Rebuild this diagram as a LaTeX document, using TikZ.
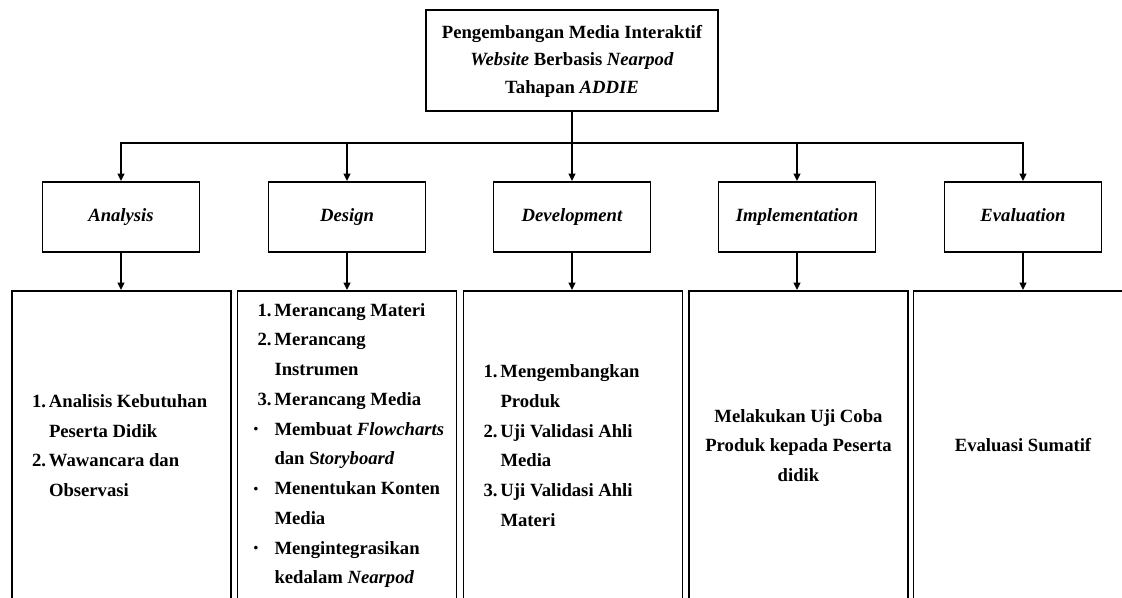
\documentclass[tikz,border=0pt]{standalone}
\usepackage{fontspec}
\setmainfont{Liberation Serif}
\usepackage{tikz}
\usetikzlibrary{arrows.meta, positioning}
\newcommand{\addienum}[2]{\makebox[12.75pt][l]{#1}\mbox{#2}}
\newcommand{\addipad}[1]{\hspace*{12.75pt}\mbox{#1}}
\newcommand{\addidot}[1]{\hspace*{-3pt}\makebox[15.75pt][l]{\raisebox{1pt}{\fontsize{10}{10}\selectfont\textbullet}}\mbox{#1}}
\tikzset{
  titlebox/.style={rectangle, draw, line width=1.4pt,
    minimum width=219pt, minimum height=75.75pt, align=center,
    text depth=2pt,
    font=\fontsize{14}{20.6}\selectfont\bfseries},
  phasebox/.style={rectangle, draw, line width=1.4pt,
    minimum width=117.75pt, minimum height=52.5pt,
    text height=10pt, text depth=3pt,
    font=\fontsize{14}{17}\selectfont\bfseries\itshape},
  detailbox/.style={rectangle, draw, line width=1.4pt,
    minimum width=164.25pt, minimum height=231.75pt, align=center,
    font=\fontsize{14}{22.3}\selectfont\bfseries},
  listbox/.style={detailbox, text width=134.25pt, inner xsep=15pt, align=flush left},
  arrow/.style={-{Triangle[length=5.5pt,width=5pt]}, line width=1.3pt},
  line/.style={line width=1.3pt}
}
\begin{document}
\begin{tikzpicture}[x=0.75pt, y=-0.75pt]
  \useasboundingbox (0,0) rectangle (1122,597);
  \clip (0,0) rectangle (1122,597);

  % Title
  \node[titlebox] (title) at (572,60.5) {Pengembangan Media Interaktif\\ \textit{Website} Berbasis \textit{Nearpod}\\ Tahapan \textit{ADDIE}};

  % ADDIE phases
  \foreach \name/\x/\phase in {ana/121/Analysis, des/347/Design, dev/572/Development, imp/797/Implementation, eva/1023/Evaluation} {
    \node[phasebox] (\name) at (\x,217) {\phase};
  }

  % Branching bar
  \coordinate (bus) at (572,143);
  \draw[line] (title.south) -- (bus);
  \draw[line, line cap=rect] (ana.north |- bus) -- (eva.north |- bus);
  \foreach \name in {ana, des, dev, imp, eva}
    \draw[arrow] (\name.north |- bus) -- (\name.north);

  % Details of each phase
  \node[listbox] (anad) at (121.5,445.5) {\addienum{1.}{Analisis Kebutuhan}\\ \addipad{Peserta Didik}\\ \addienum{2.}{Wawancara dan}\\ \addipad{Observasi}};
  \node[listbox] (desd) at (347,445.5) {\addienum{1.}{Merancang Materi}\\ \addienum{2.}{Merancang}\\ \addipad{Instrumen}\\ \addienum{3.}{Merancang Media}\\ \addidot{Membuat \textit{Flowcharts}}\\ \addipad{dan S\textit{toryboard}}\\ \addidot{Menentukan Konten}\\ \addipad{Media}\\ \addidot{Mengintegrasikan}\\ \addipad{kedalam \textit{Nearpod}}};
  \node[listbox] (devd) at (573,445.5) {\addienum{1.}{Mengembangkan}\\ \addipad{Produk}\\ \addienum{2.}{Uji Validasi Ahli}\\ \addipad{Media}\\ \addienum{3.}{Uji Validasi Ahli}\\ \addipad{Materi}};
  \node[detailbox] (impd) at (798.5,445.5) {Melakukan Uji Coba\\ Produk kepada Peserta\\ didik};
  \node[detailbox] (evad) at (1023,445.5) {Evaluasi Sumatif};

  \draw[arrow] (ana.south) -- (ana.south |- anad.north);
  \draw[arrow] (des.south) -- (des.south |- desd.north);
  \draw[arrow] (dev.south) -- (dev.south |- devd.north);
  \draw[arrow] (imp.south) -- (imp.south |- impd.north);
  \draw[arrow] (eva.south) -- (eva.south |- evad.north);
\end{tikzpicture}
\end{document}
